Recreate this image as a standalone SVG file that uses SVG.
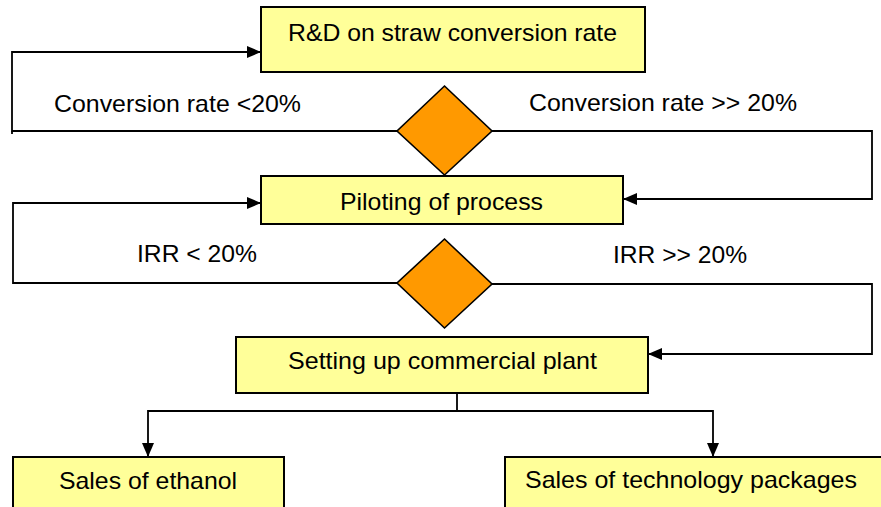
<svg xmlns="http://www.w3.org/2000/svg" width="881" height="507" viewBox="0 0 881 507">
  <defs>
    <marker id="arrow" viewBox="0 0 14 12" refX="14" refY="6" markerWidth="14" markerHeight="12" markerUnits="userSpaceOnUse" orient="auto">
      <path d="M0,0 L14,6 L0,12 Z" fill="#000"/>
    </marker>
    <style>
      .box { fill: #FFFF99; stroke: #000; stroke-width: 2; }
      .dia { fill: #FF9900; stroke: #000; stroke-width: 1.6; }
      .lbl { font-family: "Liberation Sans", Arial, sans-serif; font-size: 24px; fill: #000; }
      .edge { fill: none; stroke: #000; stroke-width: 1.8; }
      .arr { marker-end: url(#arrow); }
    </style>
  </defs>
  <rect width="881" height="507" fill="#fff"/>

  <!-- connectors -->
  <g id="connectors">
    <!-- first decision: rejected path back to R&D -->
    <path class="edge arr" d="M397,131 H12 V52 H261"/>
    <line class="edge" x1="12" y1="131" x2="12" y2="134"/>
    <!-- first decision: accepted path to piloting -->
    <path class="edge arr" d="M492,131 H872 V199 H623"/>
    <!-- second decision: rejected path back to piloting -->
    <path class="edge arr" d="M397,283 H13 V203 H261"/>
    <!-- second decision: accepted path to commercial plant -->
    <path class="edge arr" d="M492,284 H872 V354 H648"/>
    <!-- commercial plant split -->
    <path class="edge" d="M457,393 V411"/>
    <path class="edge arr" d="M457,411 H148 V457"/>
    <path class="edge arr" d="M457,411 H713 V457"/>
  </g>

  <g id="rd">
    <rect class="box" x="261" y="7" width="384" height="65"/>
    <text class="lbl" x="288" y="41" textLength="329" lengthAdjust="spacingAndGlyphs">R&amp;D on straw conversion rate</text>
  </g>

  <g id="decision-conversion">
    <polygon class="dia" points="444.5,86 492,131 444.5,175 397,131"/>
  </g>
  <g id="label-conv-low">
    <text class="lbl" x="54" y="112" textLength="247" lengthAdjust="spacingAndGlyphs">Conversion rate &lt;20%</text>
  </g>
  <g id="label-conv-high">
    <text class="lbl" x="529" y="111" textLength="268" lengthAdjust="spacingAndGlyphs">Conversion rate &gt;&gt; 20%</text>
  </g>

  <g id="piloting">
    <rect class="box" x="261" y="176" width="362" height="48"/>
    <text class="lbl" x="340" y="210" textLength="203" lengthAdjust="spacingAndGlyphs">Piloting of process</text>
  </g>

  <g id="decision-irr">
    <polygon class="dia" points="444.5,239 492,284 444.5,328 397,283"/>
  </g>
  <g id="label-irr-low">
    <text class="lbl" x="137" y="262" textLength="120" lengthAdjust="spacingAndGlyphs">IRR &lt; 20%</text>
  </g>
  <g id="label-irr-high">
    <text class="lbl" x="613" y="263" textLength="134" lengthAdjust="spacingAndGlyphs">IRR &gt;&gt; 20%</text>
  </g>

  <g id="commercial">
    <rect class="box" x="236" y="337" width="412" height="56"/>
    <text class="lbl" x="288" y="369" textLength="309" lengthAdjust="spacingAndGlyphs">Setting up commercial plant</text>
  </g>

  <g id="sales-ethanol">
    <rect class="box" x="13" y="457" width="271" height="60"/>
    <text class="lbl" x="59" y="489" textLength="178" lengthAdjust="spacingAndGlyphs">Sales of ethanol</text>
  </g>

  <g id="sales-tech">
    <rect class="box" x="505" y="457" width="390" height="60"/>
    <text class="lbl" x="525" y="488" textLength="332" lengthAdjust="spacingAndGlyphs">Sales of technology packages</text>
  </g>
</svg>
